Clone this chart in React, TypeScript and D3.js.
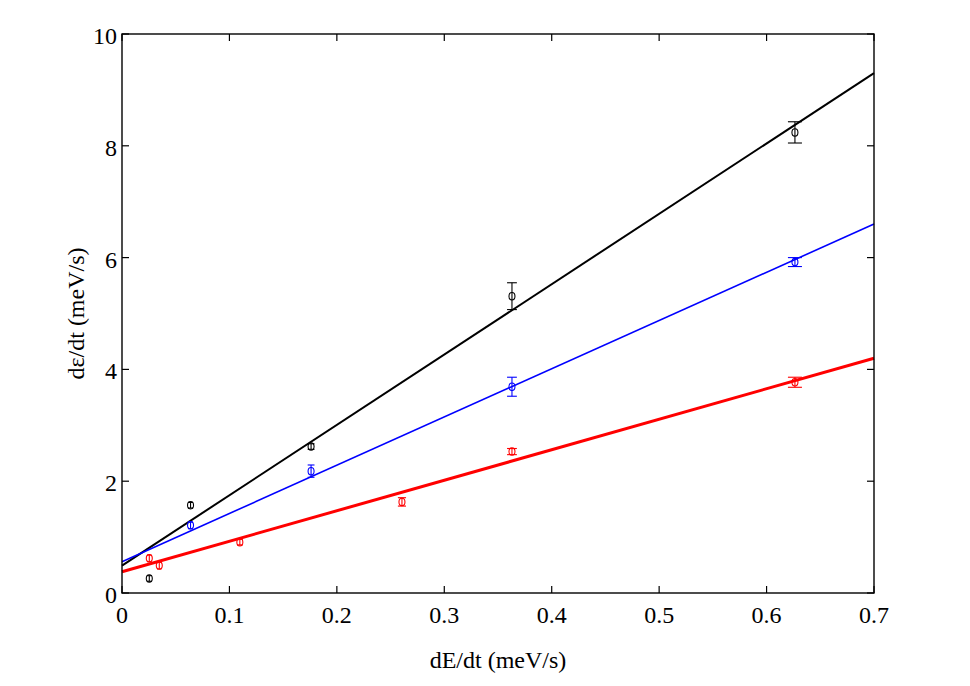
import * as d3 from 'd3';

// axis ticks
const xTicks = [0, 0.1, 0.2, 0.3, 0.4, 0.5, 0.6, 0.7];
const yTicks = [0, 2, 4, 6, 8, 10];

// black series
const blackX = [0.0254, 0.0638, 0.176, 0.363, 0.6264];
const blackY = [0.26, 1.57, 2.62, 5.31, 8.24];
const blackErr = [0.05, 0.05, 0.05, 0.24, 0.19];

// blue series
const blueX = [0.0638, 0.176, 0.363, 0.6264];
const blueY = [1.21, 2.18, 3.69, 5.92];
const blueErr = [0.06, 0.11, 0.17, 0.08];

// red series
const redX = [0.0254, 0.0347, 0.1097, 0.2606, 0.363, 0.6264];
const redY = [0.62, 0.49, 0.91, 1.63, 2.53, 3.77];
const redErr = [0.06, 0.06, 0.05, 0.075, 0.055, 0.09];

// linear fits, evaluated at the ends of the x range
const fitX = [0, 0.7];
const blackFit = [0.49, 9.3];
const blueFit = [0.56, 6.6];
const redFit = [0.38, 4.2];

const W = 970;
const H = 686;
const margin = { top: 34, right: 96, bottom: 93, left: 122 };
const FONT = '"Liberation Serif", "Times New Roman", serif';

const x = d3.scaleLinear().domain([0, 0.7]).range([margin.left, W - margin.right]);
const y = d3.scaleLinear().domain([0, 10]).range([H - margin.bottom, margin.top]);

const line = d3.line<[number, number]>()
  .x(d => x(d[0]))
  .y(d => y(d[1]));

const series = [
  { xs: blackX, ys: blackY, err: blackErr, fit: blackFit, color: '#000000', width: 2 },
  { xs: blueX, ys: blueY, err: blueErr, fit: blueFit, color: '#0000ff', width: 1.6 },
  { xs: redX, ys: redY, err: redErr, fit: redFit, color: '#ff0000', width: 3 },
];

export default function App() {
  const [x0, x1] = x.range();
  const [y0, y1] = y.range();
  const tick = 7;

  return (
    <svg width={W} height={H} style={{ position: 'absolute', left: 0, top: 0, background: '#fff' }}
      fontFamily={FONT}>
      <rect x={0} y={0} width={W} height={H} fill="#fff" />

      {/* fit lines */}
      {series.map((s, i) => (
        <path key={'fit' + i}
          d={line(fitX.map((v, j) => [v, s.fit[j]] as [number, number])) ?? ''}
          fill="none" stroke={s.color} strokeWidth={s.width} />
      ))}

      {/* error bars and markers */}
      {series.map((s, i) => (
        <g key={'pts' + i} stroke={s.color} fill="none" strokeWidth={1.1}>
          {s.xs.map((xv, j) => {
            const cx = x(xv);
            const top = y(s.ys[j] + s.err[j]);
            const bot = y(s.ys[j] - s.err[j]);
            const cap = 2 + 8 * xv;
            return (
              <g key={j}>
                <line x1={cx} x2={cx} y1={top} y2={bot} />
                <line x1={cx - cap} x2={cx + cap} y1={top} y2={top} />
                <line x1={cx - cap} x2={cx + cap} y1={bot} y2={bot} />
                <ellipse cx={cx} cy={y(s.ys[j])} rx={3} ry={3.7} />
              </g>
            );
          })}
        </g>
      ))}

      {/* axes box */}
      <rect x={x0} y={y1} width={x1 - x0} height={y0 - y1} fill="none" stroke="#000" strokeWidth={1.4} />

      {/* x ticks */}
      {xTicks.map(t => (
        <g key={'xt' + t}>
          <line x1={x(t)} x2={x(t)} y1={y0} y2={y0 - tick} stroke="#000" strokeWidth={1.2} />
          <line x1={x(t)} x2={x(t)} y1={y1} y2={y1 + tick} stroke="#000" strokeWidth={1.2} />
          <text x={x(t)} y={y0 + 30} textAnchor="middle" fontSize={24} fill="#000">{String(t)}</text>
        </g>
      ))}

      {/* y ticks */}
      {yTicks.map(t => (
        <g key={'yt' + t}>
          <line x1={x0} x2={x0 + tick} y1={y(t)} y2={y(t)} stroke="#000" strokeWidth={1.2} />
          <line x1={x1} x2={x1 - tick} y1={y(t)} y2={y(t)} stroke="#000" strokeWidth={1.2} />
          <text x={x0 - 5} y={y(t) + 10} textAnchor="end" fontSize={24} fill="#000">{String(t)}</text>
        </g>
      ))}

      {/* axis labels */}
      <text x={(x0 + x1) / 2} y={668} textAnchor="middle" fontSize={24} fill="#000">dE/dt (meV/s)</text>
      <text transform={`translate(84,${(y0 + y1) / 2}) rotate(-90)`} textAnchor="middle" fontSize={24} fill="#000">
        dε/dt (meV/s)
      </text>
    </svg>
  );
}
